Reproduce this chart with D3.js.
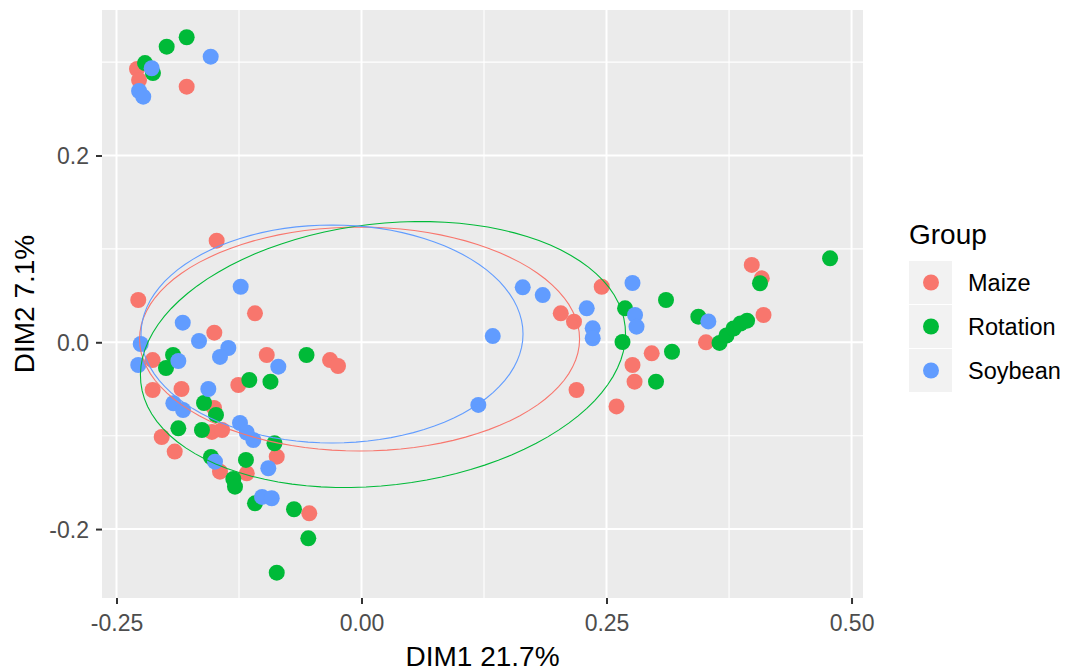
<!DOCTYPE html>
<html>
<head>
<meta charset="utf-8">
<script src="https://cdn.jsdelivr.net/npm/d3@7"></script>
<style>
  body { margin: 0; background: #fff; }
  text { font-family: "Liberation Sans", Arial, sans-serif; }
</style>
</head>
<body>
<script>
// groups and colours (ggplot default hue palette)
var groups = ["Maize", "Rotation", "Soybean"];
var colors = ["#F8766D", "#00BA38", "#619CFF"];

// point coordinates [DIM1, DIM2]
var maize = [
  [-0.2291, 0.2926], [-0.2270, 0.2808], [-0.1784, 0.2737], [-0.1478, 0.1088],
  [-0.2278, 0.0453], [-0.1087, 0.0310], [-0.1502, 0.0103], [-0.2131, -0.0190],
  [-0.0967, -0.0136], [-0.0321, -0.0190], [-0.0240, -0.0254], [-0.1257, -0.0457],
  [-0.2131, -0.0511], [-0.1837, -0.0500], [-0.1505, -0.0703], [-0.2039, -0.1014],
  [-0.1526, -0.0960], [-0.1423, -0.0939], [-0.1906, -0.1170], [-0.0865, -0.1225],
  [-0.1444, -0.1385], [-0.1171, -0.1403], [-0.0533, -0.1831], [0.2033, 0.0310],
  [0.2168, 0.0221], [0.2451, 0.0595], [0.2194, -0.0511], [0.2602, -0.0687],
  [0.2765, -0.0243], [0.2786, -0.0422], [0.2961, -0.0118], [0.3515, 0.0000],
  [0.3982, 0.0828], [0.4084, 0.0685], [0.4102, 0.0292]
];
var rotation = [
  [-0.2209, 0.2990], [-0.2128, 0.2883], [-0.1988, 0.3165], [-0.1784, 0.3266],
  [-0.1923, -0.0136], [-0.1995, -0.0275], [-0.0561, -0.0136], [-0.1145, -0.0404],
  [-0.0929, -0.0422], [-0.1607, -0.0650], [-0.1485, -0.0778], [-0.1869, -0.0921],
  [-0.1628, -0.0939], [-0.0888, -0.1081], [-0.1536, -0.1228], [-0.1179, -0.1260],
  [-0.1308, -0.1464], [-0.1291, -0.1546], [-0.1087, -0.1724], [-0.0689, -0.1788],
  [-0.0543, -0.2099], [-0.0865, -0.2467], [0.2689, 0.0364], [0.2663, 0.0003],
  [0.3107, 0.0453], [0.3168, -0.0101], [0.3005, -0.0422], [0.3437, 0.0274],
  [0.3653, -0.0007], [0.3724, 0.0073], [0.3796, 0.0148], [0.3867, 0.0201],
  [0.3934, 0.0231], [0.4066, 0.0632], [0.4781, 0.0899]
];
var soybean = [
  [-0.2141, 0.2934], [-0.1539, 0.3058], [-0.2270, 0.2691], [-0.2227, 0.2630],
  [-0.1233, 0.0595], [-0.1824, 0.0210], [-0.1658, 0.0014], [-0.1359, -0.0061],
  [-0.1444, -0.0157], [-0.2253, -0.0018], [-0.2278, -0.0243], [-0.1869, -0.0200],
  [-0.0849, -0.0261], [-0.1563, -0.0500], [-0.1920, -0.0653], [-0.1821, -0.0725],
  [-0.1240, -0.0864], [-0.1171, -0.0966], [-0.1104, -0.1046], [-0.0951, -0.1349],
  [-0.1495, -0.1278], [-0.1015, -0.1656], [-0.0916, -0.1670], [0.1192, -0.0671],
  [0.1339, 0.0067], [0.1645, 0.0589], [0.1849, 0.0506], [0.2298, 0.0364],
  [0.2359, 0.0150], [0.2359, 0.0043], [0.2765, 0.0635], [0.2791, 0.0292],
  [0.2806, 0.0167], [0.3539, 0.0223]
];

// ellipse per group: centre, first and second semi-axis vectors (data units)
var ellCenter = [[-0.0020, 0.0035], [0.0219, -0.0131], [-0.0301, 0.0089]];
var ellU = [[0.2245, 0.0000], [0.2469, 0.0123], [0.1949, 0.0000]];
var ellV = [[0.0000, 0.1199], [0.0173, 0.1419], [0.0000, 0.1167]];

var xTicks = [-0.25, 0, 0.25, 0.5];
var yTicks = [-0.2, 0, 0.2];
var xMinor = [-0.125, 0.125, 0.375];
var yMinor = [-0.1, 0.1, 0.3];

var W = 1068, H = 672;
var panel = { left: 102, right: 863, top: 10, bottom: 598 };

var svg = d3.select("body").append("svg")
    .attr("width", W)
    .attr("height", H);

var x = d3.scaleLinear().domain([-0.2648, 0.5117]).range([panel.left, panel.right]),
    y = d3.scaleLinear().domain([-0.2738, 0.3558]).range([panel.bottom, panel.top]);

// panel background
svg.append("rect")
    .attr("x", panel.left).attr("y", panel.top)
    .attr("width", panel.right - panel.left)
    .attr("height", panel.bottom - panel.top)
    .attr("fill", "#EBEBEB");

var grid = svg.append("g");
grid.selectAll(".vminor").data(xMinor).enter().append("line")
    .attr("x1", d => x(d)).attr("x2", d => x(d))
    .attr("y1", panel.top).attr("y2", panel.bottom)
    .attr("stroke", "#fff").attr("stroke-width", 1.1);
grid.selectAll(".hminor").data(yMinor).enter().append("line")
    .attr("y1", d => y(d)).attr("y2", d => y(d))
    .attr("x1", panel.left).attr("x2", panel.right)
    .attr("stroke", "#fff").attr("stroke-width", 1.1);
grid.selectAll(".vmajor").data(xTicks).enter().append("line")
    .attr("x1", d => x(d)).attr("x2", d => x(d))
    .attr("y1", panel.top).attr("y2", panel.bottom)
    .attr("stroke", "#fff").attr("stroke-width", 2);
grid.selectAll(".hmajor").data(yTicks).enter().append("line")
    .attr("y1", d => y(d)).attr("y2", d => y(d))
    .attr("x1", panel.left).attr("x2", panel.right)
    .attr("stroke", "#fff").attr("stroke-width", 2);

// points
var sets = [maize, rotation, soybean];
sets.forEach(function (pts, i) {
  svg.append("g").selectAll("circle")
    .data(pts).enter().append("circle")
    .attr("cx", d => x(d[0]))
    .attr("cy", d => y(d[1]))
    .attr("r", 8)
    .attr("fill", colors[i]);
});

// ellipses
var ellLine = d3.line()
    .x(d => x(d[0]))
    .y(d => y(d[1]));

groups.forEach(function (g, i) {
  var c = ellCenter[i], u = ellU[i], v = ellV[i];
  var pts = d3.range(0, 101).map(function (k) {
    var t = k / 100 * 2 * Math.PI;
    return [c[0] + u[0] * Math.cos(t) + v[0] * Math.sin(t),
            c[1] + u[1] * Math.cos(t) + v[1] * Math.sin(t)];
  });
  svg.append("path")
    .datum(pts)
    .attr("fill", "none")
    .attr("stroke", colors[i])
    .attr("stroke-width", 1.1)
    .attr("d", ellLine);
});

// axes (plain hyphen for negatives, like R)
function fmt(p) {
  var f = d3.format("." + p + "f");
  return function (d) { return f(d).replace("\u2212", "-"); };
}
var xAxis = svg.append("g")
    .attr("transform", "translate(0," + panel.bottom + ")")
    .call(d3.axisBottom(x).tickValues(xTicks).tickSize(6).tickPadding(6)
      .tickFormat(fmt(2)));
var yAxis = svg.append("g")
    .attr("transform", "translate(" + panel.left + ",0)")
    .call(d3.axisLeft(y).tickValues(yTicks).tickSize(6).tickPadding(7)
      .tickFormat(fmt(1)));

[xAxis, yAxis].forEach(function (a) {
  a.select(".domain").remove();
  a.selectAll(".tick line").attr("stroke", "#333333").attr("stroke-width", 2);
  a.selectAll(".tick text")
    .attr("fill", "#4D4D4D")
    .style("font-size", "23px")
    .style("font-family", "'Liberation Sans', Arial, sans-serif");
});
xAxis.selectAll(".tick text").attr("dy", "0.92em");
yAxis.selectAll(".tick text").attr("dy", "0.36em");

// axis titles
svg.append("text")
    .attr("x", (panel.left + panel.right) / 2)
    .attr("y", 666)
    .attr("text-anchor", "middle")
    .style("font-size", "28px")
    .text("DIM1 21.7%");

svg.append("text")
    .attr("transform", "translate(34," + (panel.top + panel.bottom) / 2 + ") rotate(-90)")
    .attr("text-anchor", "middle")
    .style("font-size", "28px")
    .text("DIM2 7.1%");

// legend
var legend = svg.append("g").attr("transform", "translate(909,0)");
legend.append("text")
    .attr("x", 0).attr("y", 244)
    .style("font-size", "28px")
    .text("Group");

var keyY = [261, 305, 349];
var keys = legend.selectAll(".key").data(groups).enter().append("g")
    .attr("transform", (d, i) => "translate(0," + keyY[i] + ")");
keys.append("rect")
    .attr("width", 43).attr("height", 43)
    .attr("fill", "#F2F2F2");
keys.append("circle")
    .attr("cx", 22).attr("cy", 21.5).attr("r", 8)
    .attr("fill", (d, i) => colors[i]);
keys.append("text")
    .attr("x", 59).attr("y", 30)
    .style("font-size", "23.5px")
    .attr("fill", "#000")
    .text(d => d);
</script>
</body>
</html>
